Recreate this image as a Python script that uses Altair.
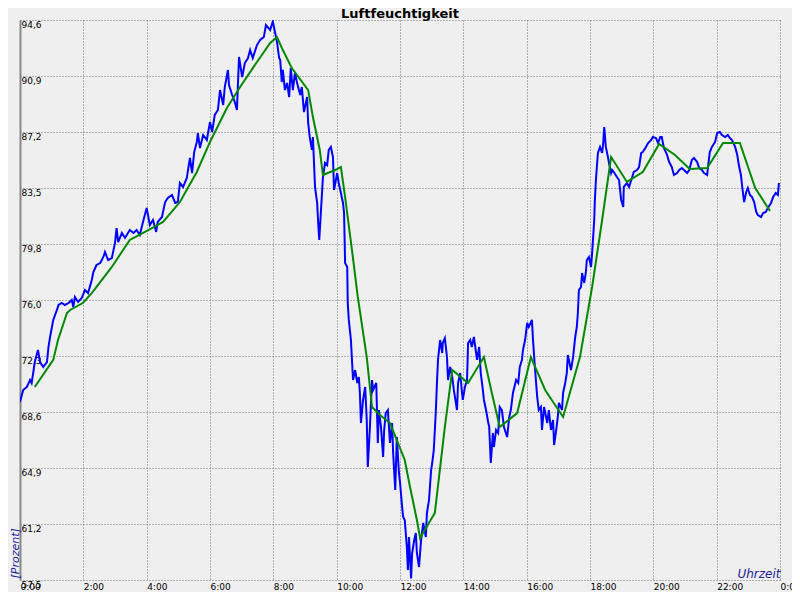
import altair as alt
import pandas as pd

# ---- data (minutes since midnight, relative humidity %) ----
blue_minutes = [
    0, 6, 13, 19, 22, 25, 28, 34, 38, 44,
    51, 54, 57, 63, 70, 73, 79, 85, 92, 98,
    101, 104, 110, 117, 123, 129, 136, 139, 145, 152,
    158, 161, 167, 174, 180, 183, 186, 193, 199, 208,
    215, 221, 227, 234, 240, 246, 252, 258, 261, 269,
    275, 280, 288, 294, 299, 303, 309, 316, 322, 326,
    330, 335, 337, 341, 347, 354, 360, 364, 369, 375,
    379, 385, 388, 394, 396, 402, 407, 411, 415, 421,
    426, 432, 436, 441, 449, 455, 462, 466, 474, 479,
    487, 491, 493, 496, 498, 502, 506, 510, 513, 517,
    521, 525, 531, 534, 538, 544, 546, 549, 553, 555,
    559, 563, 565, 567, 570, 574, 578, 582, 585, 589,
    593, 595, 601, 604, 608, 612, 614, 616, 620, 621,
    623, 627, 631, 635, 639, 642, 644, 646, 650, 654,
    657, 659, 663, 667, 669, 675, 678, 680, 684, 688,
    690, 693, 697, 701, 705, 707, 711, 714, 718, 720,
    724, 726, 729, 733, 735, 737, 741, 743, 747, 750,
    752, 756, 760, 764, 769, 771, 775, 779, 781, 784,
    788, 790, 792, 796, 800, 801, 805, 809, 811, 815,
    819, 822, 828, 830, 834, 837, 839, 843, 847, 849,
    853, 856, 860, 866, 870, 873, 877, 879, 883, 887,
    889, 892, 896, 898, 902, 906, 909, 913, 917, 923,
    927, 930, 934, 940, 944, 947, 951, 953, 957, 961,
    964, 970, 972, 976, 980, 983, 987, 989, 993, 999,
    1002, 1006, 1010, 1012, 1016, 1019, 1021, 1027, 1029, 1033,
    1036, 1038, 1040, 1044, 1048, 1052, 1055, 1057, 1059, 1063,
    1065, 1069, 1072, 1074, 1078, 1082, 1084, 1086, 1088, 1089,
    1091, 1093, 1095, 1099, 1103, 1105, 1107, 1110, 1114, 1116,
    1120, 1122, 1125, 1131, 1135, 1139, 1143, 1144, 1150, 1154,
    1160, 1163, 1169, 1173, 1177, 1180, 1186, 1190, 1196, 1199,
    1205, 1209, 1213, 1216, 1220, 1226, 1230, 1235, 1239, 1245,
    1249, 1254, 1258, 1264, 1268, 1273, 1277, 1283, 1287, 1292,
    1296, 1302, 1304, 1307, 1311, 1317, 1321, 1326, 1330, 1336,
    1341, 1345, 1349, 1355, 1359, 1362, 1366, 1368, 1372, 1376,
    1379, 1383, 1387, 1391, 1395, 1398, 1404, 1408, 1413, 1417,
    1423, 1427, 1432, 1436, 1438,
]
blue_values = [
    69.29, 70.09, 70.29, 70.75, 70.55, 71.21, 71.94, 72.74, 71.94, 71.61,
    71.94, 72.94, 73.60, 74.73, 75.39, 75.72, 75.85, 75.72, 75.85, 76.05,
    75.59, 76.25, 75.92, 76.18, 76.71, 76.51, 77.38, 77.90, 78.37, 78.50,
    78.90, 79.23, 78.70, 78.83, 79.83, 80.82, 79.89, 80.49, 80.16, 80.69,
    80.49, 80.69, 80.36, 81.35, 82.15, 81.02, 81.35, 80.56, 81.22, 81.55,
    82.54, 82.81, 83.01, 82.48, 82.54, 83.80, 83.54, 84.13, 85.46, 84.46,
    85.85, 86.52, 87.11, 86.12, 86.98, 86.65, 87.84, 87.18, 88.31, 88.64,
    89.96, 88.97, 90.16, 91.29, 90.29, 89.63, 89.17, 88.64, 92.15, 90.82,
    91.75, 92.08, 92.61, 92.08, 92.94, 93.28, 93.47, 94.27, 93.94, 94.50,
    93.14, 92.08, 91.95, 90.49, 91.29, 89.96, 90.43, 89.50, 91.42, 89.96,
    91.09, 90.43, 89.63, 90.16, 88.50, 89.50, 87.78, 86.85, 85.99, 86.85,
    83.54, 82.48, 81.15, 80.03, 81.81, 84.20, 85.13, 84.99, 85.99, 86.19,
    85.52, 83.34, 84.46, 83.80, 83.14, 82.48, 81.81, 78.50, 78.24, 75.85,
    74.73, 73.40, 70.75, 71.41, 70.55, 70.95, 69.89, 67.90, 69.43, 70.29,
    68.10, 64.99, 67.64, 70.75, 70.09, 70.55, 66.58, 68.76, 67.64, 65.65,
    67.44, 68.56, 68.76, 66.58, 67.90, 65.91, 63.46, 66.97, 64.59, 63.99,
    62.34, 61.67, 61.48, 59.69, 58.16, 60.35, 57.60, 59.29, 60.15, 60.61,
    59.29, 58.36, 60.15, 61.28, 60.35, 61.94, 62.80, 64.79, 65.25, 66.11,
    68.76, 70.55, 72.08, 73.40, 72.54, 73.20, 73.53, 72.27, 70.75, 71.61,
    70.95, 70.09, 68.76, 70.55, 71.21, 70.09, 69.43, 70.29, 70.75, 73.20,
    73.40, 72.94, 73.60, 72.08, 72.94, 71.21, 70.09, 69.43, 68.76, 67.97,
    67.64, 65.25, 67.24, 66.31, 67.44, 67.24, 68.96, 68.76, 67.64, 66.97,
    68.30, 68.76, 69.89, 70.75, 70.55, 71.61, 72.08, 72.74, 73.40, 74.53,
    74.26, 74.73, 73.40, 71.41, 69.62, 68.76, 68.96, 67.44, 68.96, 67.90,
    68.76, 67.44, 68.10, 66.44, 67.44, 68.30, 69.23, 68.76, 69.89, 70.55,
    71.21, 72.41, 72.08, 71.41, 72.27, 73.60, 74.26, 75.19, 76.71, 76.91,
    77.84, 77.18, 77.84, 78.70, 78.90, 78.24, 79.16, 80.22, 81.35, 82.48,
    83.87, 84.86, 85.79, 86.19, 85.79, 86.45, 87.51, 86.19, 85.52, 85.13,
    84.46, 84.66, 84.53, 84.20, 84.00, 82.68, 82.21, 83.54, 83.80, 83.54,
    84.20, 84.53, 84.66, 84.86, 85.79, 85.85, 86.19, 86.45, 86.65, 86.85,
    86.78, 86.45, 86.85, 86.85, 86.12, 85.66, 85.19, 84.86, 84.33, 84.46,
    84.66, 84.79, 84.66, 84.46, 84.66, 85.33, 85.46, 85.19, 84.79, 84.66,
    84.46, 84.33, 84.99, 85.85, 86.19, 86.52, 87.11, 87.18, 86.98, 86.85,
    86.98, 86.78, 86.65, 86.19, 85.66, 84.99, 84.33, 83.67, 82.54, 83.21,
    83.47, 83.01, 82.87, 82.54, 81.88, 81.68, 81.55, 81.81, 81.88, 82.15,
    82.48, 82.87, 83.14, 83.01, 83.80,
]

green_minutes = [
    28, 63, 72, 89, 95, 119, 136, 174, 208, 218,
    244, 271, 303, 335, 360, 392, 417, 449, 474, 487,
    498, 515, 546, 555, 568, 574, 597, 608, 616, 629,
    640, 657, 667, 682, 701, 716, 729, 739, 752, 758,
    786, 805, 819, 849, 879, 894, 909, 942, 968, 995,
    1029, 1061, 1084, 1103, 1120, 1150, 1180, 1211, 1241, 1269,
    1302, 1332, 1364, 1393, 1421,
]
green_values = [
    70.29, 72.08, 73.40, 75.19, 75.39, 75.85, 76.51, 78.24, 80.03, 80.22,
    80.69, 81.22, 82.54, 84.53, 86.52, 88.77, 90.16, 91.82, 93.08, 93.47,
    92.61, 91.42, 89.96, 88.17, 85.99, 84.33, 84.66, 84.86, 82.87, 79.36,
    76.25, 72.27, 68.96, 68.43, 67.90, 66.58, 65.45, 63.66, 61.48, 60.28,
    61.94, 67.64, 71.41, 70.55, 72.27, 69.89, 67.64, 68.56, 72.27, 70.09,
    68.30, 72.27, 76.91, 81.35, 85.52, 83.87, 84.53, 86.39, 85.66, 84.73,
    84.79, 86.45, 86.45, 83.47, 81.95,
]

x_ticks = [0, 2, 4, 6, 8, 10, 12, 14, 16, 18, 20, 22, 24]
x_tick_labels = ["0:00", "2:00", "4:00", "6:00", "8:00", "10:00", "12:00",
                 "14:00", "16:00", "18:00", "20:00", "22:00", "0:00"]
y_ticks = [57.5, 61.21, 64.92, 68.63, 72.34, 76.05, 79.76, 83.47, 87.18, 90.89, 94.6]
y_tick_labels = ["57,5", "61,2", "64,9", "68,6", "72,3", "76,0",
                 "79,8", "83,5", "87,2", "90,9", "94,6"]

title_text = "Luftfeuchtigkeit"
y_title = "[Prozent]"
x_title = "Uhrzeit"

# ---- tables ----
blue_df = pd.DataFrame({"h": [m / 60 for m in blue_minutes], "v": blue_values})
green_df = pd.DataFrame({"h": [m / 60 for m in green_minutes], "v": green_values})
title_df = pd.DataFrame({"t": [title_text]})


def label_expr(ticks, labels):
    arr_t = "[" + ",".join(repr(t) for t in ticks) + "]"
    arr_l = "[" + ",".join("'" + s + "'" for s in labels) + "]"
    return f"{arr_l}[indexof({arr_t}, datum.value)]"


FONT = "DejaVu Sans"
TITLE_BLUE = "#22229c"
GRID = "#6e6e6e"

x_enc = alt.X(
    "h:Q",
    scale=alt.Scale(domain=[0, 24], nice=False, zero=False),
    axis=alt.Axis(
        values=x_ticks, labelExpr=label_expr(x_ticks, x_tick_labels),
        grid=True, gridDash=[1, 2], gridColor=GRID, gridWidth=1, gridOpacity=1,
        domain=False, ticks=False,
        labelAlign="left", labelBaseline="top", labelPadding=2,
        labelFont=FONT, labelFontSize=9, labelColor="black",
        labelFlush=False, labelOverlap=False, labelBound=False,
        title=x_title, titleFont=FONT, titleFontSize=12, titleFontStyle="italic",
        titleFontWeight="normal", titleColor=TITLE_BLUE,
        titleAlign="right", titleBaseline="alphabetic", titleX=760, titleY=-3,
    ),
)
y_enc = alt.Y(
    "v:Q",
    scale=alt.Scale(domain=[57.5, 94.6], nice=False, zero=False),
    axis=alt.Axis(
        values=y_ticks, labelExpr=label_expr(y_ticks, y_tick_labels),
        grid=True, gridDash=[1, 2], gridColor=GRID, gridWidth=1, gridOpacity=1,
        domain=True, domainColor="#888888", domainWidth=2, ticks=False,
        labelAlign="left", labelBaseline="top", labelPadding=-1,
        labelFont=FONT, labelFontSize=9, labelColor="black",
        labelFlush=False, labelOverlap=False, labelBound=False,
        title=y_title, titleFont=FONT, titleFontSize=11, titleFontStyle="italic",
        titleFontWeight="normal", titleColor=TITLE_BLUE, titleAngle=270,
        titleAlign="left", titleBaseline="alphabetic", titleX=-2, titleY=558,
    ),
)

blue = alt.Chart(blue_df).mark_line(color="#0000ff", strokeWidth=2, clip=True).encode(
    x=x_enc, y=y_enc, order="h:Q"
)
green = alt.Chart(green_df).mark_line(color="#008800", strokeWidth=2, clip=True).encode(
    x="h:Q", y="v:Q", order="h:Q"
)
title = alt.Chart(title_df).mark_text(
    font=FONT, fontSize=13, fontWeight="bold", color="black",
    align="center", baseline="alphabetic",
).encode(x=alt.value(380), y=alt.value(-2), text="t:N")

chart = (
    alt.layer(blue, green, title)
    .properties(
        width=760, height=560,
        background="#efefef",
        padding={"left": 12, "top": 12, "right": 12, "bottom": 12},
        autosize=alt.AutoSizeParams(type="none"),
    )
    .configure_view(stroke=None)
)

chart.save("out.html", embed_options={"renderer": "svg", "actions": False})
